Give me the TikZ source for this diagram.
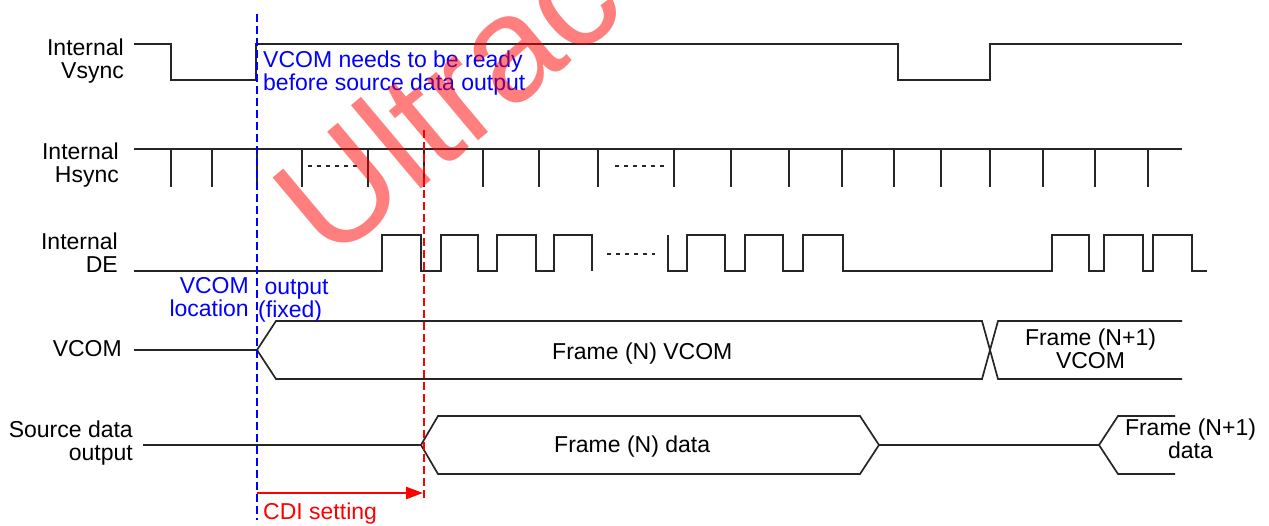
\documentclass[tikz,border=0pt]{standalone}
\usepackage{fontspec}
\setmainfont{Liberation Sans}
\usetikzlibrary{arrows.meta}

\begin{document}
\begin{tikzpicture}
        [x=1pt, y=-1pt,
         wave_style/.style={draw=black!85, line width=1.7pt, line join=miter},
         dots_style/.style={draw=black!85, line width=1.5pt, dash pattern=on 4pt off 5pt},
         label_style/.style={inner sep=0pt, font=\fontsize{23}{23}\selectfont},
         note_style/.style={label_style, text=blue},
         marker_blue/.style={draw=blue, line width=1.5pt, dash pattern=on 8pt off 4pt},
         marker_red/.style={draw=red, line width=1.5pt, dash pattern=on 8pt off 4pt},
         arrow_style/.style={draw=red, line width=2.5pt, -{Triangle[length=17pt,width=12pt]}},
         mark_style/.style={inner sep=0pt, text=red, text opacity=0.5, font=\fontsize{150}{150}\selectfont}]
            \useasboundingbox (0,0) rectangle (1269,525);
            % signal names
            \node[label_style, align=right, anchor=east] (vsync) at (124, 60.6) {Internal\\Vsync};
            \node[label_style, align=right, anchor=east] (hsync) at (119, 164.7) {Internal\\Hsync};
            \node[label_style, align=right, anchor=east] (de) at (118, 253) {Internal\\DE};
            \node[label_style, anchor=base east] (vcom) at (122, 356) {VCOM};
            \node[label_style, align=right, anchor=east] (src) at (133, 442.6) {Source data\\output};
            % waveforms
            \draw[wave_style] (134,44) -- (171,44) -- (171,80) -- (256,80) -- (256,44) -- (898,44)
                -- (898,80) -- (990,80) -- (990,44) -- (1182,44);
            \draw[wave_style] (134,149) -- (1182,149);
            \draw[wave_style] (171,149) -- (171,187) (212,149) -- (212,187) (257,149) -- (257,187)
                (302,149) -- (302,187) (368,149) -- (368,187) (424,149) -- (424,187)
                (483,149) -- (483,187) (539,149) -- (539,187) (598,149) -- (598,187)
                (674,149) -- (674,187) (731,149) -- (731,187) (789,149) -- (789,187)
                (842,149) -- (842,187) (894,149) -- (894,187) (941,149) -- (941,187)
                (990,149) -- (990,187) (1043,149) -- (1043,187) (1095,149) -- (1095,187)
                (1148,149) -- (1148,187);
            \draw[dots_style] (308,166) -- (360,166);
            \draw[dots_style] (615,166) -- (665,166);
            \draw[wave_style] (134,271) -- (382,271) -- (382,235) -- (421,235) -- (421,271)
                -- (441,271) -- (441,235) -- (478,235) -- (478,271) -- (497,271) -- (497,235)
                -- (536,235) -- (536,271) -- (554,271) -- (554,235) -- (592,235) -- (592,271);
            \draw[dots_style] (607,254) -- (655,254);
            \draw[wave_style] (668,235) -- (668,271) -- (687,271) -- (687,235) -- (725,235)
                -- (725,271) -- (745,271) -- (745,235) -- (783,235) -- (783,271) -- (803,271)
                -- (803,235) -- (843,235) -- (843,271) -- (1052,271) -- (1052,235) -- (1089,235)
                -- (1089,271) -- (1104,271) -- (1104,235) -- (1143,235) -- (1143,271)
                -- (1153,271) -- (1153,235) -- (1192,235) -- (1192,271) -- (1207,271);
            \draw[wave_style] (134,350) -- (257,350) -- (276,321) -- (982,321) -- (998,379) -- (1182,379);
            \draw[wave_style] (257,350) -- (276,379) -- (982,379) -- (998,321) -- (1182,321);
            \draw[wave_style] (143,445) -- (421,445) -- (438,416) -- (860,416) -- (879,445)
                -- (860,474) -- (438,474) -- (421,445);
            \draw[wave_style] (879,445) -- (1099,445) -- (1118,416) -- (1175,416);
            \draw[wave_style] (1099,445) -- (1118,474) -- (1175,474);
            % bus contents
            \node[label_style, anchor=base west] (framen) at (552, 359) {Frame (N) VCOM};
            \node[label_style, align=center] (framen1) at (1090.5, 349) {Frame (N+1)\\VCOM};
            \node[label_style, anchor=base west] (datan) at (554, 452) {Frame (N) data};
            \node[label_style, align=center] (datan1) at (1190.5, 439) {Frame (N+1)\\data};
            % markers
            \coordinate (vcom_top) at (257,14);
            \coordinate (vcom_bot) at (257,520);
            \coordinate (cdi_top) at (424,130);
            \coordinate (cdi_bot) at (424,500);
            \coordinate (cdi_from) at (257,493);
            \coordinate (cdi_to) at (423,493);
            \draw[marker_blue] (vcom_top) -- (vcom_bot);
            \draw[marker_red] (cdi_top) -- (cdi_bot);
            \draw[arrow_style] (cdi_from) -- (cdi_to);
            \node[note_style, align=left, anchor=west] (ready) at (263, 73.5) {VCOM needs to be ready\\before source data output};
            \node[note_style, align=right, anchor=east] (loc) at (249, 297) {VCOM\\location};
            \node[note_style, align=left, anchor=west] (fixed) at (258, 300.5) {\ output\\(fixed)};
            \node[label_style, text=red, anchor=base west] (cdi) at (263, 519) {CDI setting};
            % watermark
            \node[mark_style, rotate=40, anchor=base west] (mark) at (330,265) {Ultrac};
        \end{tikzpicture}
\end{document}
